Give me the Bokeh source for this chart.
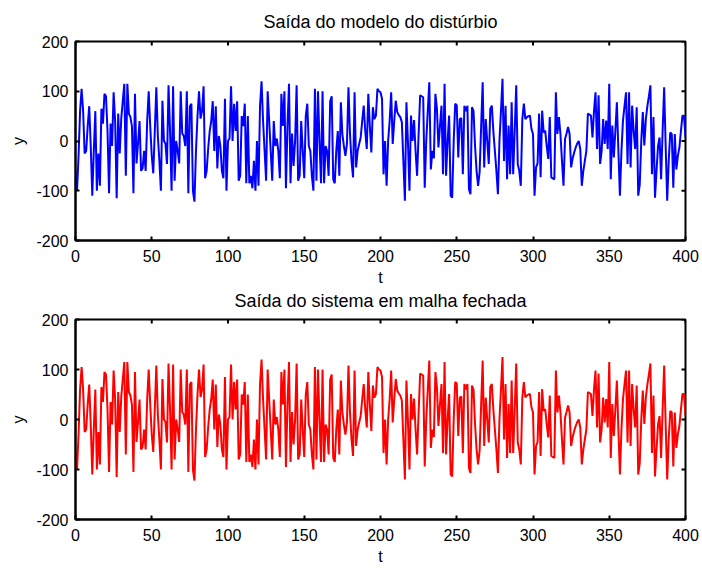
from bokeh.plotting import figure
from bokeh.layouts import column
from bokeh.models import Range1d, FixedTicker, PrintfTickFormatter, Title
from bokeh.embed import file_html
from bokeh.resources import INLINE

# ---- data ----
t = list(range(401))
y_dist = [
    -60, -100, -30, 60, 105, 60, -25, -20, 30, 70,
    -10, -110, -20, 60, -100, -25, -90, 65, 35, 95,
    90, 20, -105, 35, -10, 98, 40, -115, 55, -25,
    45, 80, 115, -70, 115, 55, 48, 30, -105, 95,
    -45, -5, 40, -60, -55, -20, -60, 40, 100, 30,
    -30, -65, 20, 108, 10, -40, -100, 81, 0, -5,
    -46, 112, 20, -100, 110, -80, 0, -20, -45, 100,
    15, 10, -10, 100, -105, 70, 75, -100, -122, -20,
    50, 100, 45, 60, 110, -75, -60, -15, 20, 40,
    80, -20, 70, -55, 10, -10, -60, -75, 85, -100,
    0, 5, 110, 0, 75, 20, 80, -80, -70, 50,
    30, 75, -85, 50, -85, -70, -95, -40, -100, 0,
    -90, 70, 120, 40, -20, -80, 100, 40, -20, -80,
    40, -10, 5, -20, -75, 95, 30, 100, -95, 30,
    115, -85, 15, -50, 0, 112, -80, -70, 40, -20,
    -75, 50, 75, -10, -20, -70, -100, 105, -80, 100,
    0, -85, 100, -85, -10, -20, -70, 80, 90, -77,
    -85, -20, 20, -70, 78, 14, -10, -30, -6, 108,
    14, -40, -73, 98, -53, -20, -6, 7, 40, 71,
    20, -16, 95, 30, -23, 68, 44, 51, 105, 100,
    98, 85, -67, 0, -90, 0, 40, 98, -6, 40,
    81, 58, 52, 48, 38, -40, -120, 78, -3, -100,
    51, 0, 42, -20, -70, 14, 92, 90, 88, -94,
    0, 60, 118, -57, -20, -35, 95, 65, -13, 30,
    71, -67, 115, -70, 0, 51, -110, -114, 0, 75,
    72, -33, 44, 46, -67, 71, 60, 71, -97, -107,
    68, 60, -10, -60, -90, -62, 30, 118, -53, 44,
    0, -46, 65, 71, 20, -20, -60, -107, 0, 60,
    125, -40, 71, -77, 31, -67, 78, -67, 20, 112,
    -46, -60, -90, 44, 75, 44, 48, 50, 51, 24,
    14, -110, -53, -45, 55, -73, 61, 17, 21, -10,
    -36, 48, -73, -75, -77, 98, 14, 48, 14, -40,
    -90, 4, 15, 28, 14, -53, -35, -23, -13, -5,
    0, -16, -90, -60, -40, -20, 55, 53, 51, 7,
    60, 98, -16, 92, -46, -20, 44, -6, 41, -16,
    115, -77, 31, -33, 20, 78, -20, -110, -20, 41,
    70, 98, -46, 98, -53, 71, 20, -16, 68, -110,
    -87, 0, 58, -9, 44, 70, 90, 112, -67, 48,
    -114, -60, -10, 7, -77, 20, 108, -10, -120, -40,
    17, 14, -94, 14, -57, -30, -13, 20, 51, 51,
    7,
]
# closed-loop output looks identical in the picture
y_closed = list(y_dist)

x_ticks = [0, 50, 100, 150, 200, 250, 300, 350, 400]
y_ticks = [-200, -100, 0, 100, 200]
X0, X1, Y0, Y1 = 0, 400, -200, 200
title_top = "Saída do modelo do distúrbio"
title_bottom = "Saída do sistema em malha fechada"

FONT = "Liberation Sans"
FRAME_W, FRAME_H, TICK_PX = 610, 200, 4


def style_axis(ax, ticks):
    ax.ticker = FixedTicker(ticks=ticks)
    ax.formatter = PrintfTickFormatter(format="%d")
    ax.major_tick_in = TICK_PX
    ax.major_tick_out = 0
    ax.minor_tick_in = 0
    ax.minor_tick_out = 0
    ax.axis_line_width = 2
    ax.major_tick_line_width = 2
    ax.axis_line_color = "black"
    ax.major_tick_line_color = "black"
    ax.major_label_text_font = FONT
    ax.major_label_text_font_size = "16px"
    ax.major_label_text_color = "black"
    ax.axis_label_text_font = FONT
    ax.axis_label_text_font_size = "16px"
    ax.axis_label_text_font_style = "normal"
    ax.axis_label_text_color = "black"


def style_title(ti, standoff):
    ti.align = "center"
    ti.text_font = FONT
    ti.text_font_size = "18px"
    ti.text_font_style = "normal"
    ti.text_color = "black"
    ti.standoff = standoff
    ti.offset = 0


def make(ys, color, height, top, bottom):
    p = figure(width=702, height=height, output_backend="svg", toolbar_location=None,
               x_range=Range1d(X0, X1), y_range=Range1d(Y0, Y1),
               min_border_left=75, min_border_right=17,
               min_border_top=top, min_border_bottom=bottom,
               x_axis_label="t", y_axis_label="y")
    p.line(t, ys, line_color=color, line_width=2)
    p.xgrid.visible = False
    p.ygrid.visible = False
    p.outline_line_color = "black"
    p.outline_line_width = 2
    p.outline_line_alpha = 1
    p.background_fill_color = "white"
    p.border_fill_color = "white"

    style_axis(p.xaxis[0], x_ticks)
    style_axis(p.yaxis[0], y_ticks)

    # inward tick marks on the top and right edges of the box
    dy = (Y1 - Y0) / FRAME_H * TICK_PX
    dx = (X1 - X0) / FRAME_W * TICK_PX
    p.segment(x0=x_ticks, x1=x_ticks, y0=[Y1] * len(x_ticks), y1=[Y1 - dy] * len(x_ticks),
              line_color="black", line_width=2)
    p.segment(x0=[X1] * len(y_ticks), x1=[X1 - dx] * len(y_ticks), y0=y_ticks, y1=y_ticks,
              line_color="black", line_width=2)

    p.xaxis[0].major_label_standoff = 9
    p.xaxis[0].axis_label_standoff = 4
    p.yaxis[0].major_label_standoff = 7
    p.yaxis[0].axis_label_standoff = 6
    return p


# upper panel: its own title above, and the lower panel's title below its x axis
p1 = make(y_dist, "#0000ff", 310, 40, 70)
p1.title.text = title_top
style_title(p1.title, 19)
t2 = Title(text=title_bottom)
style_title(t2, 0)
p1.add_layout(t2, "below")

p2 = make(y_closed, "#ff0000", 258, 9, 49)
p2.title = None

layout = column(p1, p2, spacing=0)
open("out.html", "w").write(file_html(layout, INLINE))
